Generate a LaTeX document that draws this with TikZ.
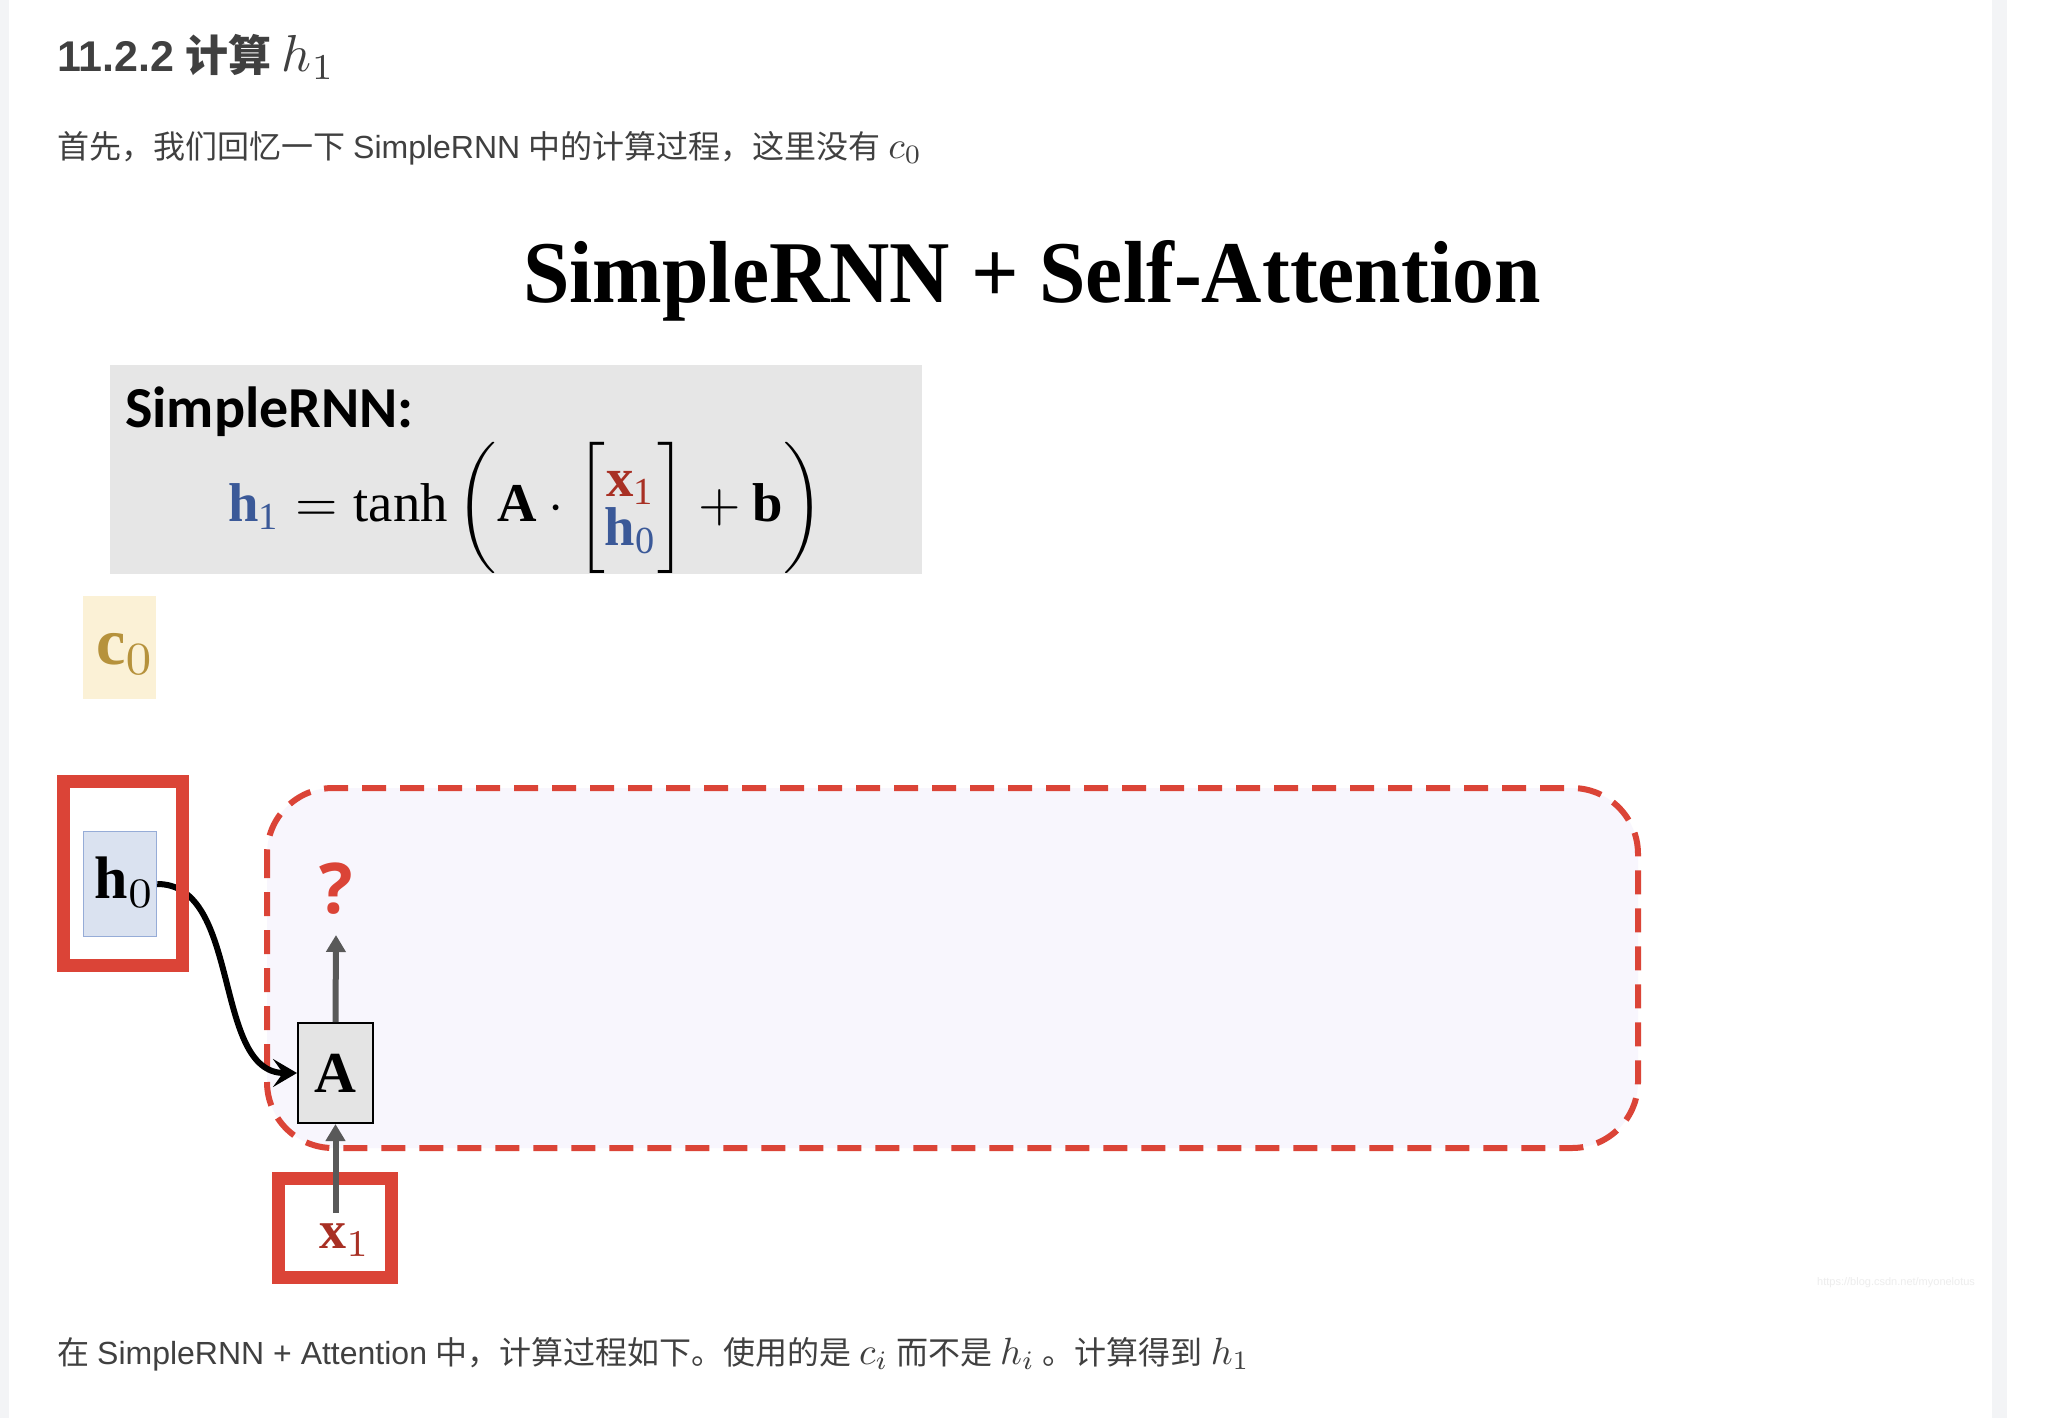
\documentclass[tikz,border=0pt]{standalone}
\usepackage{amsmath}
\usepackage{graphicx}
\usepackage{fontspec}
\setmainfont{Liberation Serif}
\newfontfamily\cjk{Noto Sans CJK SC}
\newfontfamily\lsans{Liberation Sans}
\newfontfamily\carlito{Carlito}
\newfontfamily\osans{Open Sans}
\usetikzlibrary{arrows.meta}
\newcommand{\mth}[2]{\scalebox{#1}{\fontsize{10}{12}\selectfont$#2$}}
\definecolor{redline}{RGB}{219,68,55}
\definecolor{xred}{RGB}{168,48,36}
\definecolor{eqblue}{RGB}{59,89,152}
\definecolor{hfill}{RGB}{218,226,240}
\definecolor{hborder}{RGB}{150,172,215}
\definecolor{cfill}{RGB}{251,241,214}
\definecolor{ctext}{RGB}{182,146,60}
\definecolor{boxgray}{RGB}{230,230,230}
\definecolor{agray}{RGB}{228,228,228}
\definecolor{arrowgray}{RGB}{89,89,89}
\definecolor{lav}{RGB}{248,246,253}
\definecolor{txt}{RGB}{64,64,64}
\definecolor{edgegray}{RGB}{243,244,246}
\begin{document}
\begin{tikzpicture}[x=1pt,y=-1pt,
  txtline/.style={anchor=base west,inner sep=0pt,text=txt},
  redframe/.style={draw=redline,line width=13pt,inner sep=0pt},
  garrow/.style={draw=arrowgray,line width=6pt,-{Triangle[length=17pt,width=19pt]}},
  barrow/.style={draw=black,line width=6pt,-{Stealth[length=24pt,width=28pt,inset=10pt]}}]
\useasboundingbox (0,0) rectangle (2060,1418);
\fill[white] (0,0) rectangle (2060,1418);
\fill[edgegray] (0,0) rectangle (9,1418);
\fill[edgegray] (1992,0) rectangle (2007,1418);

% header texts
\node[txtline,font=\fontsize{43}{50}\selectfont] (title) at (57,72)
  {{\lsans\bfseries 11.2.2} {\cjk\bfseries 计算} \mth{5.2}{h_1}};
\node[txtline,font=\fontsize{32}{36}\selectfont] (intro) at (57,158)
  {{\cjk 首先，我们回忆一下} {\lsans SimpleRNN} {\cjk 中的计算过程，这里没有} \mth{3.8}{c_0}};
\node[anchor=base west,inner sep=0pt] (bigtitle) at (523,302)
  {\resizebox{1017pt}{62pt}{\bfseries SimpleRNN + Self-Attention}};

% formula box
\node[fill=boxgray,minimum width=812pt,minimum height=209pt,inner sep=0pt] (rnnbox) at (516,469.5) {};
\node[anchor=base west,inner sep=0pt,font=\carlito\bfseries\fontsize{58}{64}\selectfont] (rnnlabel) at (125,427) {SimpleRNN:};
\node[inner sep=0pt] (eq) at (526,508)
  {\resizebox{595pt}{!}{$\textcolor{eqblue}{\mathbf{h}_{\mathrm{1}}} = \tanh\left(\mathbf{A}\cdot\left[\begin{array}{@{}c@{}}\textcolor{xred}{\mathbf{x}_{\mathrm{1}}}\\[-3pt]\textcolor{eqblue}{\mathbf{h}_{\mathrm{0}}}\end{array}\right] + \mathbf{b}\right)$}};

% c0
\node[fill=cfill,minimum width=73pt,minimum height=103pt,inner sep=0pt,text=ctext] (c0) at (119.5,647.5) {};
\node[inner sep=0pt,text=ctext] (c0t) at ([xshift=6pt,yshift=-6pt]c0.center) {\mth{6.6}{\mathbf{c}_0}};

% dashed attention region
\draw[redline,line width=6pt,dash pattern=on 24pt off 14pt,rounded corners=66pt,fill=lav]
  (267,788) rectangle (1638,1148);

% h0
\node[fill=hfill,draw=hborder,line width=1.5pt,minimum width=73pt,minimum height=105pt,inner sep=0pt] (h0) at (120,884) {};
\node[inner sep=0pt] (h0t) at ([xshift=5pt,yshift=2pt]h0.center) {\mth{6.0}{\mathbf{h}_0}};

% A
\node[fill=agray,draw=black,line width=2pt,minimum width=75pt,minimum height=100pt,inner sep=0pt] (A) at (335.5,1073) {\mth{5.8}{\mathbf{A}}};

% question mark
\node[inner sep=0pt,text=redline,font=\osans\bfseries\fontsize{70}{76}\selectfont] (q) at (336,889) {?};

% curved connector h0 -> A (behind the red frame)
\draw[barrow] (h0.east) .. controls +(85,0) and +(-85,0) .. (A.west);

% red frames
\node[redframe,minimum width=119.5pt,minimum height=184pt] (h0frame) at (122.75,873.5) {};
\node[redframe,minimum width=113pt,minimum height=99pt] (x1frame) at (335,1228) {};

% x1
\node[inner sep=0pt,text=xred] (x1) at (345,1240) {\mth{5.4}{\mathbf{x}_1}};

% gray arrows
\coordinate (x1start) at (335.5,1213);
\draw[garrow] (x1start) -- (A.south);
\draw[garrow] (A.north) -- ([yshift=-20pt]q.south);

% bottom text
\node[txtline,font=\fontsize{32}{36}\selectfont] (outro) at (57,1364)
  {{\cjk 在} {\lsans SimpleRNN + Attention} {\cjk 中，计算过程如下。使用的是} \mth{3.8}{c_i} {\cjk 而不是} \mth{3.8}{h_i} {\cjk 。计算得到} \mth{3.8}{h_1}};

% watermark
\node[anchor=base west,inner sep=0pt,text=black!7,font=\lsans\fontsize{11}{13}\selectfont] (wm) at (1817,1285) {https://blog.csdn.net/myonelotus};
\end{tikzpicture}
\end{document}
